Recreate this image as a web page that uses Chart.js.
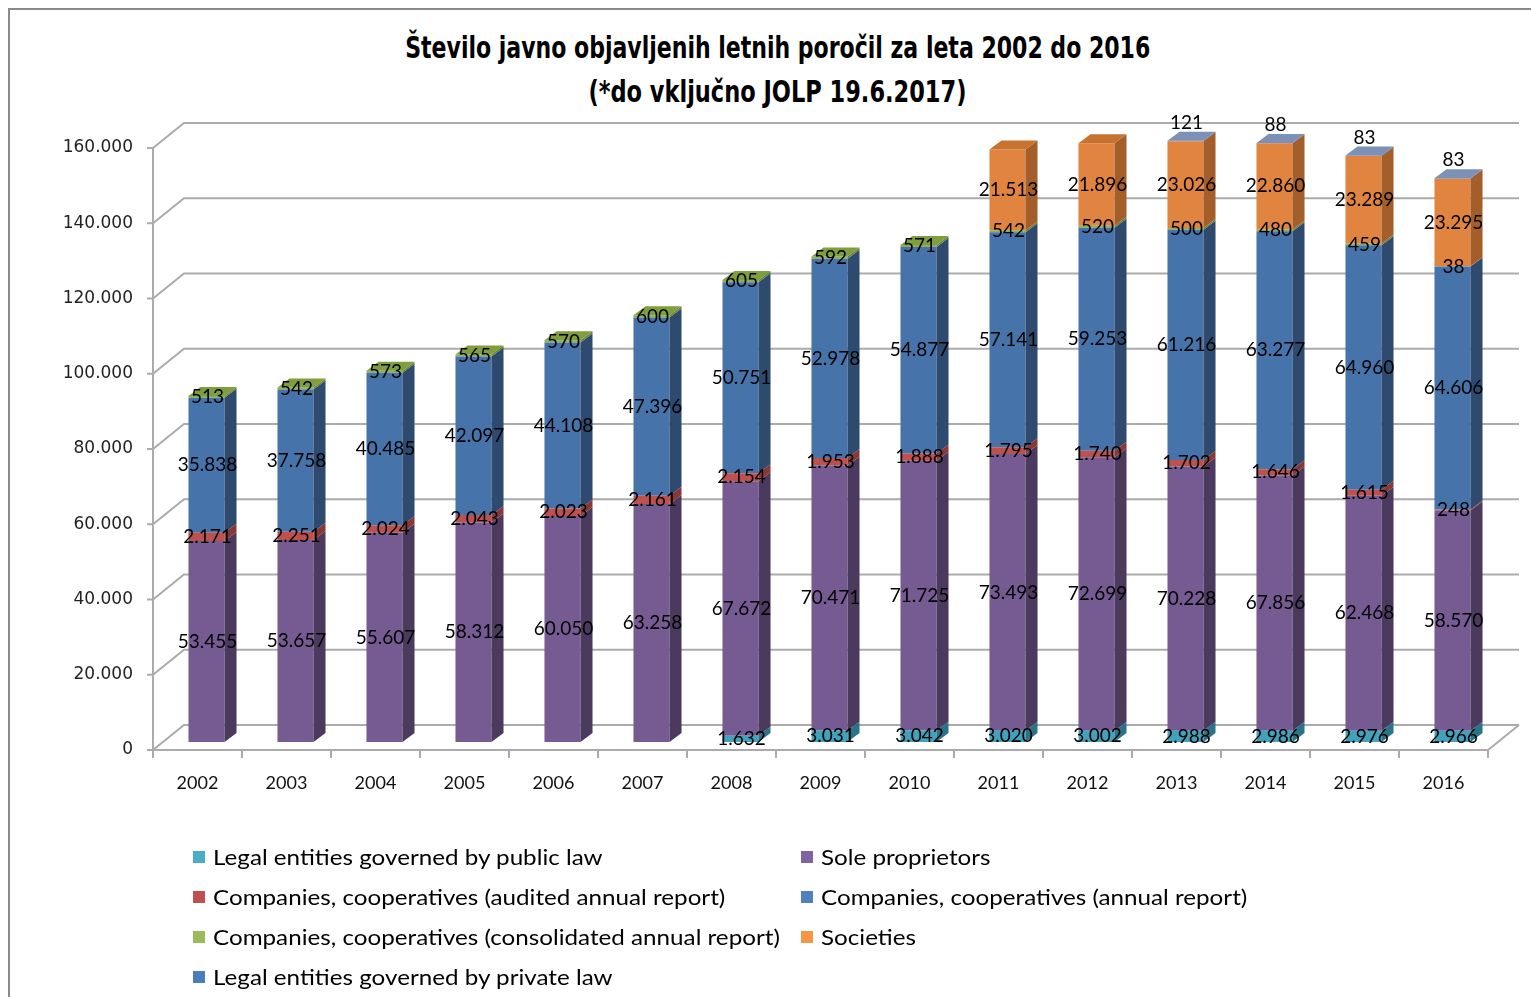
<!DOCTYPE html>
<html>
<head>
<meta charset="utf-8">
<script src="https://cdn.jsdelivr.net/npm/chart.js@4.4.1/dist/chart.umd.min.js"></script>
<style>
  html, body { margin: 0; padding: 0; background: #fff; }
  #wrap { position: absolute; left: 0; top: 0; width: 1531px; height: 997px; overflow: hidden; }
  #frame { position: absolute; left: 8px; top: 8px; width: 1600px; height: 1100px; border-left: 2px solid #8a8a8a; border-top: 2px solid #8a8a8a; }
  #cv { position: absolute; left: 0; top: 0; }
  .title { position: absolute; left: 12px; width: 1531px; text-align: center; font-family: "Liberation Sans Narrow", "DejaVu Sans Condensed", sans-serif; font-weight: bold; font-size: 31px; color: #000; white-space: nowrap; }
  .title span { display: inline-block; transform-origin: center center; }
  #legend { position: absolute; left: 0; top: 0; width: 1531px; height: 997px; pointer-events: none; }
  .li { position: absolute; font-family: Lato, "Open Sans", sans-serif; font-size: 22px; color: #000; white-space: nowrap; line-height: 24px; }
  .li span { display: inline-block; transform: scaleX(1.1); transform-origin: left center; }
  .li i { position: absolute; left: -20px; top: 6px; width: 12px; height: 12px; }
</style>
</head>
<body>
<div id="wrap">
  <div id="frame"></div>
  <div class="title" id="t1" style="top:29px;"><span>Število javno objavljenih letnih poročil za leta 2002 do 2016</span></div>
  <div class="title" id="t2" style="top:73px;"><span>(*do vključno JOLP 19.6.2017)</span></div>
  <canvas id="cv" width="1531" height="997"></canvas>
  <div id="legend"></div>
</div>
<script>
// ---------------- data ----------------
const years = ['2002','2003','2004','2005','2006','2007','2008','2009','2010','2011','2012','2013','2014','2015','2016'];
const seriesNames = [
  'Legal entities governed by public law',
  'Sole proprietors',
  'Companies, cooperatives (audited annual report)',
  'Companies, cooperatives (annual report)',
  'Companies, cooperatives (consolidated annual report)',
  'Societies',
  'Legal entities governed by private law'
];
const publicLaw    = [0, 0, 0, 0, 0, 0, 1632, 3031, 3042, 3020, 3002, 2988, 2986, 2976, 2966];
const soleProp     = [53455, 53657, 55607, 58312, 60050, 63258, 67672, 70471, 71725, 73493, 72699, 70228, 67856, 62468, 58570];
const audited      = [2171, 2251, 2024, 2043, 2023, 2161, 2154, 1953, 1888, 1795, 1740, 1702, 1646, 1615, 248];
const annual       = [35838, 37758, 40485, 42097, 44108, 47396, 50751, 52978, 54877, 57141, 59253, 61216, 63277, 64960, 64606];
const consolidated = [513, 542, 573, 565, 570, 600, 605, 592, 571, 542, 520, 500, 480, 459, 38];
const societies    = [0, 0, 0, 0, 0, 0, 0, 0, 0, 21513, 21896, 23026, 22860, 23289, 23295];
const privateLaw   = [0, 0, 0, 0, 0, 0, 0, 0, 0, 0, 0, 121, 88, 83, 83];
const yTicks = [0, 20000, 40000, 60000, 80000, 100000, 120000, 140000, 160000];

// ---------------- styles ----------------
const frontColors  = ['#41a2bb', '#765b92', '#be504d', '#4673aa', '#8fae52', '#e1843f', '#4a7ebb'];
const sideColors   = ['#2b7386', '#4b3a5e', '#8a3735', '#2e4a6e', '#6a833a', '#a35e29', '#34557d'];
const topColors    = ['#68bcd2', '#8e74ab', '#d26e6b', '#6b8fc0', '#7f9e3e', '#c7722e', '#7d90b5'];
const legendColors = ['#4bacc6', '#8064a2', '#c0504d', '#4f81bd', '#9bbb59', '#f79646', '#4a7ebb'];
const allSeries = [publicLaw, soleProp, audited, annual, consolidated, societies, privateLaw];

const DEPTH = { dx: 12, dy: -9 };      // bar depth
const FRONT = { dx: -9, dy: 8 };       // front floor edge relative to bar plane
const BACK  = { dx: 22, dy: -17 };     // back wall relative to bar plane

function fmt(v) { return String(v).replace(/\B(?=(\d{3})+(?!\d))/g, '.'); }

const wallPlugin = {
  id: 'wall3d',
  beforeDatasetsDraw(chart) {
    const ctx = chart.ctx, ys = chart.scales.y, ca = chart.chartArea;
    const fl = ca.left + FRONT.dx, fr = ca.right + FRONT.dx;
    const bl = ca.left + BACK.dx, br = ca.right + BACK.dx;
    ctx.save();
    ctx.strokeStyle = '#ababab';
    ctx.lineWidth = 2;
    yTicks.forEach(v => {
      const p = ys.getPixelForValue(v);
      ctx.beginPath();
      ctx.moveTo(fl, p + FRONT.dy);
      ctx.lineTo(bl, p + BACK.dy);
      ctx.lineTo(br, p + BACK.dy);
      ctx.stroke();
    });
    const p0 = ys.getPixelForValue(0), pm = ys.getPixelForValue(yTicks[yTicks.length - 1]);
    ctx.beginPath();
    ctx.moveTo(fl, pm + FRONT.dy);
    ctx.lineTo(fl, p0 + FRONT.dy);
    ctx.stroke();
    yTicks.forEach(v => {
      const p = ys.getPixelForValue(v) + FRONT.dy;
      ctx.beginPath(); ctx.moveTo(fl - 6, p); ctx.lineTo(fl, p); ctx.stroke();
    });
    ctx.beginPath();
    ctx.moveTo(fl, p0 + FRONT.dy);
    ctx.lineTo(fr, p0 + FRONT.dy);
    ctx.lineTo(br, p0 + BACK.dy);
    ctx.stroke();
    const n = years.length;
    const w = (ca.right - ca.left) / n;
    for (let i = 0; i <= n; i++) {
      const x = ca.left + i * w + FRONT.dx;
      ctx.beginPath(); ctx.moveTo(x, p0 + FRONT.dy); ctx.lineTo(x, p0 + FRONT.dy + 8); ctx.stroke();
    }
    ctx.restore();
  },
  afterDatasetsDraw(chart) {
    const ctx = chart.ctx;
    const n = years.length;
    ctx.save();
    for (let i = 0; i < n; i++) {
      let top = null;
      chart.data.datasets.forEach((ds, d) => {
        const v = ds.data[i];
        if (!v) return;
        const el = chart.getDatasetMeta(d).data[i];
        const { x, y, base, width } = el.getProps(['x', 'y', 'base', 'width'], true);
        const r = x + width / 2;
        ctx.fillStyle = sideColors[d];
        ctx.beginPath();
        ctx.moveTo(r, base);
        ctx.lineTo(r + DEPTH.dx, base + DEPTH.dy);
        ctx.lineTo(r + DEPTH.dx, y + DEPTH.dy);
        ctx.lineTo(r, y);
        ctx.closePath();
        ctx.fill();
        top = { d, x, y, width };
      });
      if (top) {
        const l = top.x - top.width / 2, r = top.x + top.width / 2;
        ctx.fillStyle = topColors[top.d];
        ctx.beginPath();
        ctx.moveTo(l, top.y);
        ctx.lineTo(l + DEPTH.dx, top.y + DEPTH.dy);
        ctx.lineTo(r + DEPTH.dx, top.y + DEPTH.dy);
        ctx.lineTo(r, top.y);
        ctx.closePath();
        ctx.fill();
      }
    }
    ctx.font = '19px Lato, "Open Sans", sans-serif';
    ctx.fillStyle = '#000';
    ctx.textAlign = 'center';
    ctx.textBaseline = 'middle';
    chart.data.datasets.forEach((ds, d) => {
      const meta = chart.getDatasetMeta(d);
      ds.data.forEach((v, i) => {
        if (!v) return;
        const { x, y, base } = meta.data[i].getProps(['x', 'y', 'base'], true);
        let ly = (y + base) / 2;
        if (d === allSeries.length - 1) ly = y - 18;
        ctx.fillText(fmt(v), x + 1, ly);
      });
    });
    ctx.restore();
  }
};

const chart = new Chart(document.getElementById('cv'), {
  type: 'bar',
  data: {
    labels: years,
    datasets: allSeries.map((arr, d) => ({
      label: seriesNames[d],
      data: arr,
      backgroundColor: frontColors[d],
      borderWidth: 0,
      categoryPercentage: 1,
      barPercentage: 0.405
    }))
  },
  options: {
    responsive: false,
    devicePixelRatio: 1,
    animation: false,
    events: [],
    layout: { padding: { left: 0, right: 34, top: 140, bottom: 195 } },
    plugins: { legend: { display: false }, title: { display: false }, tooltip: { enabled: false } },
    scales: {
      x: {
        stacked: true,
        grid: { display: false, drawTicks: false },
        border: { display: false },
        ticks: { font: { family: 'Lato, "Open Sans", sans-serif', size: 18 }, color: '#111', padding: 30, labelOffset: -9, maxRotation: 0, autoSkip: false },
        afterFit(s) { s.height = 60; }
      },
      y: {
        stacked: true,
        min: 0, max: 160000,
        grid: { display: false, drawTicks: false },
        border: { display: false },
        ticks: {
          stepSize: 20000,
          padding: 29,
          labelOffset: 8,
          font: { family: '"DejaVu Sans", Verdana, sans-serif', size: 17 },
          color: '#222',
          callback: v => fmt(v)
        },
        afterFit(s) { s.width = 162; }
      }
    }
  },
  plugins: [wallPlugin]
});

const lg = document.getElementById('legend');
chart.data.datasets.forEach((ds, d) => {
  const row = Math.floor(d / 2), col = d % 2;
  const div = document.createElement('div');
  div.className = 'li';
  div.style.left = (col === 0 ? 213 : 821) + 'px';
  div.style.top = (845 + row * 40) + 'px';
  const sq = document.createElement('i');
  sq.style.background = legendColors[d];
  div.appendChild(sq);
  const tx = document.createElement('span');
  tx.textContent = ds.label;
  div.appendChild(tx);
  lg.appendChild(div);
});

function fitTitle(id, target) {
  const sp = document.querySelector('#' + id + ' span');
  const w = sp.getBoundingClientRect().width;
  if (w > 0) sp.style.transform = 'scaleX(' + (target / w) + ')';
}
fitTitle('t1', 745);
fitTitle('t2', 378);
</script>
</body>
</html>
